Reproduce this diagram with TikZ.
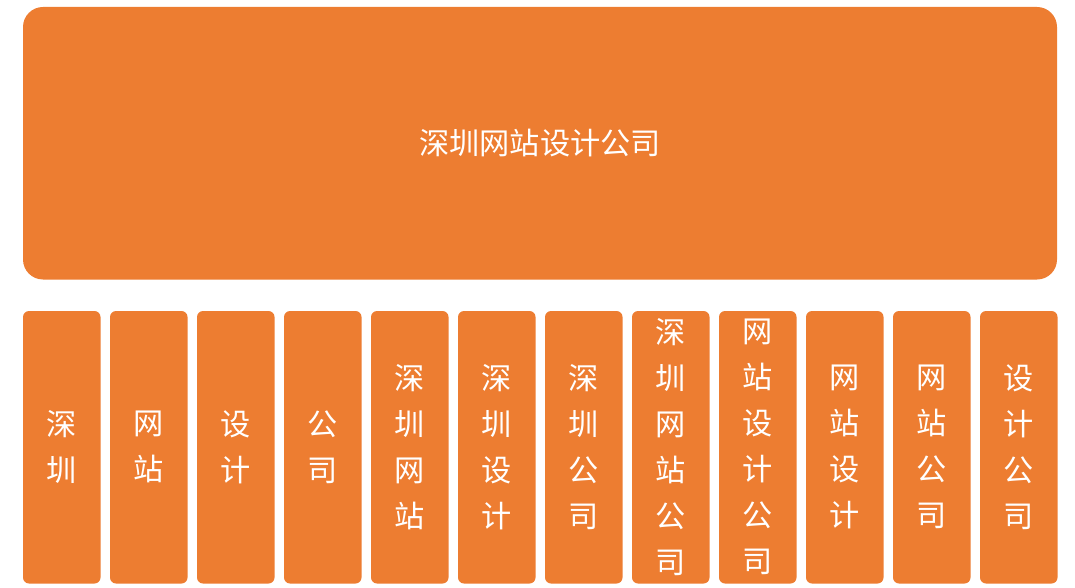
\documentclass[tikz,border=0pt]{standalone}
\usepackage{fontspec}
\newfontfamily\cjk{Noto Sans CJK SC}
\definecolor{boxorange}{HTML}{ED7D31}
\tikzset{
  bigbox/.style={fill=boxorange, draw=none, rounded corners=20pt},
  colbox/.style={fill=boxorange, draw=none, rounded corners=6pt},
  bigtext/.style={text=white, font=\cjk\fontsize{30.2}{36}\selectfont, inner sep=0pt},
  coltext/.style={text=white, font=\cjk\fontsize{30.2}{46}\selectfont, align=center, inner sep=0pt},
}
\begin{document}
\begin{tikzpicture}[x=1pt,y=-1pt]
\useasboundingbox (0,0) rectangle (1075,588);
\fill[bigbox] (23,7) rectangle (1057,279.5);
\node[bigtext] (title) at (540,143) {深圳网站设计公司};
\foreach \i/\t in {0/{深\\圳},1/{网\\站},2/{设\\计},3/{公\\司},
  4/{深\\圳\\网\\站},5/{深\\圳\\设\\计},6/{深\\圳\\公\\司},
  7/{深\\圳\\网\\站\\公\\司},8/{网\\站\\设\\计\\公\\司},
  9/{网\\站\\设\\计},10/{网\\站\\公\\司},11/{设\\计\\公\\司}}{
  \pgfmathsetmacro{\xl}{23+87*\i}
  \fill[colbox] (\xl,311) rectangle ({\xl+77.5},583.5);
  \node[coltext] (c\i) at ({\xl+38.75},447) {\t};
}
\end{tikzpicture}
\end{document}
